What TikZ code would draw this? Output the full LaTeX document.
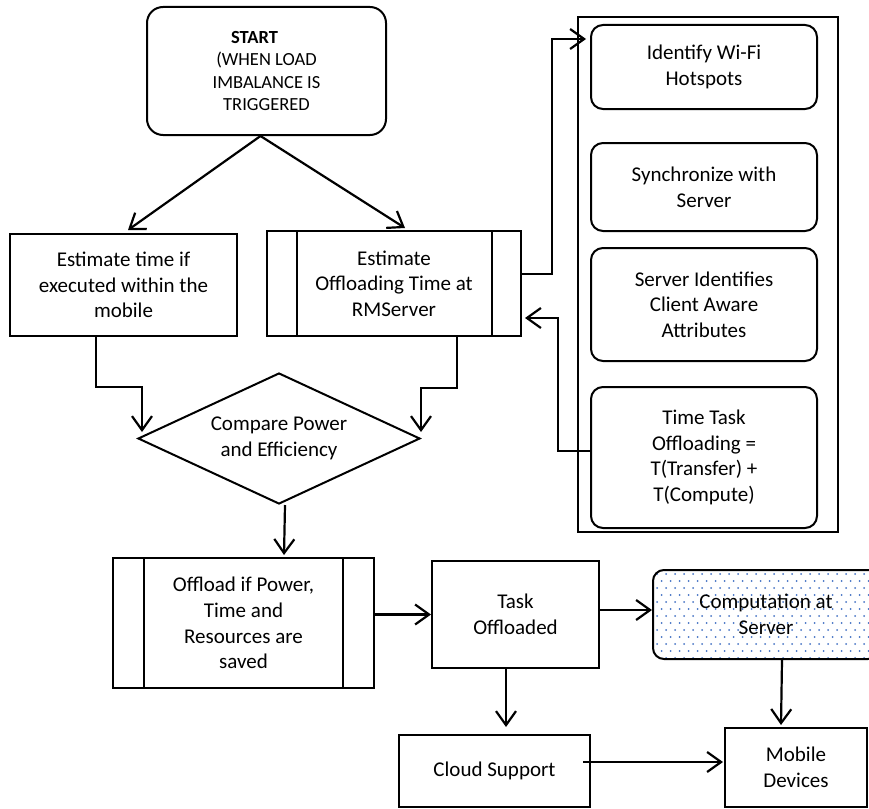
\documentclass[tikz,border=0pt]{standalone}
\usepackage{fontspec}
\setmainfont{Carlito}
\usetikzlibrary{arrows.meta,calc,shapes.geometric}
\definecolor{dotc}{HTML}{4472C4}
\tikzset{
  base/.style={draw, line width=2pt, align=center, inner sep=0pt, font=\fontsize{21}{25.6}\selectfont, fill=white},
  plainbox/.style={base, rectangle},
  rbox/.style={base, rectangle, rounded corners=12pt},
  predef/.style={base, rectangle},
  arr/.style={line width=2.2pt, -{Straight Barb[length=14pt,width=20pt,line width=2.2pt]}},
}
\begin{document}
\begin{tikzpicture}[x=1pt,y=-1pt]
\useasboundingbox (0,0) rectangle (869,808);
% right container
\node[draw, line width=2pt, minimum width=260pt, minimum height=515pt, inner sep=0pt] (cont) at (708,274.5) {};
\node[rbox, minimum width=226pt, minimum height=84pt] (r1) at (704,67) {Identify Wi-Fi\\Hotspots};
\node[rbox, minimum width=226pt, minimum height=88pt] (r2) at (704,187) {Synchronize with\\Server};
\node[rbox, minimum width=226pt, minimum height=113pt] (r3) at (704,304.5) {Server Identifies\\Client Aware\\Attributes};
\node[rbox, minimum width=226pt, minimum height=141pt] (r4) at (704,457.5) {Time Task\\Offloading =\\T(Transfer) +\\T(Compute)};
% start
\node[base, rounded corners=16pt, minimum width=239pt, minimum height=128pt, font=\fontsize{18.5}{22.3}\selectfont] (start) at (266.5,71) {\textbf{START}\rule{24pt}{0pt}\\(WHEN LOAD\\IMBALANCE IS\\TRIGGERED};
% estimate boxes
\node[plainbox, minimum width=227pt, minimum height=102pt] (est1) at (123.5,285) {Estimate time if\\executed within the\\mobile};
\node[predef, minimum width=254pt, minimum height=105pt] (est2) at (394,283.5) {Estimate\\Offloading Time at\\RMServer};
\draw[line width=2pt] ($(est2.north west)+(31,0)$) -- ($(est2.south west)+(31,0)$);
\draw[line width=2pt] ($(est2.north east)+(-30,0)$) -- ($(est2.south east)+(-30,0)$);
% diamond
\node[base, diamond, aspect=2.15, minimum width=282pt, minimum height=131pt] (cmp) at (279,438.5) {Compare Power\\and Efficiency};
% offload
\node[predef, minimum width=261pt, minimum height=130pt] (off) at (243.5,623) {Offload if Power,\\Time and\\Resources are\\saved};
\draw[line width=2pt] ($(off.north west)+(32,0)$) -- ($(off.south west)+(32,0)$);
\draw[line width=2pt] ($(off.north east)+(-32,0)$) -- ($(off.south east)+(-32,0)$);
% task
\node[plainbox, minimum width=167pt, minimum height=107pt] (task) at (515.5,614.5) {Task\\Offloaded};
% computation (clipped at the right edge)
\begin{scope}
\clip (0,0) rectangle (869,808);
\node[base, rounded corners=11pt, minimum width=226pt, minimum height=89pt,
  path picture={
    \foreach \j in {0,...,13}{
      \pgfmathsetmacro\off{mod(\j,2)*4.5}
      \foreach \i in {0,...,26}{
        \fill[dotc] ([xshift={\i*9+\off+4}, yshift={-\j*7-4}]path picture bounding box.north west) circle (1pt);
      }
    }
  }] (comp) at (766,614.5) {Computation at\\Server};
\end{scope}
% cloud and mobile
\node[plainbox, minimum width=191pt, minimum height=72pt] (cloud) at (494.5,771) {Cloud Support};
\node[plainbox, minimum width=142pt, minimum height=79pt] (mob) at (796,767.5) {Mobile\\Devices};
% coordinates
\coordinate (dL) at (142,432);
\coordinate (dR) at (421,432);
\coordinate (k1) at (552,39);
\coordinate (k2) at (558,318);
% connectors
\draw[arr] ($(start.south)+(-6,0)$) -- ($(est1.north west)+(119,-3)$);
\draw[arr] ($(start.south)+(-6,0)$) -- ($(est2.north west)+(139,-2)$);
\draw[arr] ($(est1.south west)+(87,0)$) -- ++(0,50) -| (dL);
\draw[arr] ($(est2.south west)+(191,0)$) -- ++(0,51) -| (dR);
\draw[arr] ($(cmp.south)+(6,0)$) -- ($(off.north west)+(172,-2)$);
\draw[arr] (off.east |- task.west) -- (task.west);
\draw[arr] ($(task.east)+(0,-4.5)$) -- ($(comp.west)+(0,-4.5)$);
\draw[arr] ($(task.south)+(-9.5,0)$) -- ($(cloud.north)+(11.5,-7)$);
\draw[arr] ($(comp.south)+(16,0)$) -- ($(mob.north west)+(57,-2)$);
\draw[arr] ($(cloud.east)+(-8,-9)$) -- ($(mob.west)+(-1,-5.5)$);
\draw[arr] ($(est2.east)+(0,-9.5)$) -| (k1) -- ($(r1.west |- k1)+(-4,0)$);
\draw[arr] ($(r4.west)+(0,-6.5)$) -| (k2) -- ($(est2.east |- k2)+(3,0)$);
\end{tikzpicture}
\end{document}
